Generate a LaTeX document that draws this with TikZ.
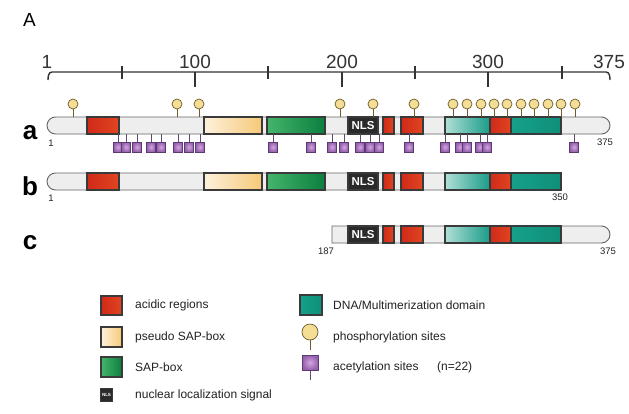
\documentclass[tikz,border=0pt]{standalone}
\usepackage{fontspec}
\setmainfont{Liberation Sans}
\definecolor{barfill}{HTML}{EEEEEE}
\definecolor{barline}{HTML}{666666}
\definecolor{segline}{HTML}{3A3A3A}
\definecolor{redL}{HTML}{D02A1A}
\definecolor{redM}{HTML}{F5772E}
\definecolor{redR}{HTML}{E04520}
\definecolor{psL}{HTML}{FDF1DC}
\definecolor{psR}{HTML}{F7C977}
\definecolor{sapL}{HTML}{45B56C}
\definecolor{sapR}{HTML}{0B7F3F}
\definecolor{tealL}{HTML}{B0DFD6}
\definecolor{tealR}{HTML}{1A9C88}
\definecolor{tealA}{HTML}{16A08A}
\definecolor{tealB}{HTML}{0F8F7A}
\definecolor{nlsc}{HTML}{2A2A2A}
\definecolor{phosfill}{HTML}{F4DD95}
\definecolor{phosline}{HTML}{6E5B2A}
\definecolor{acin}{HTML}{D3A6E0}
\definecolor{acout}{HTML}{9560AD}
\definecolor{acline}{HTML}{5A3A70}
\definecolor{txt}{HTML}{222222}
\definecolor{axisc}{HTML}{333333}
\tikzset{
  barbody/.style={draw=barline, fill=barfill, line width=0.9pt},
  seg/.style={draw=segline, line width=1.1pt},
  acid/.style={seg, left color=redL, middle color=redM, right color=redR},
  psap/.style={seg, left color=psL, right color=psR},
  sapbox/.style={seg, left color=sapL, right color=sapR},
  tealone/.style={seg, left color=tealL, right color=tealR},
  tealtwo/.style={seg, left color=tealA, right color=tealB},
  nlsbox/.style={seg, fill=nlsc},
  phos/.style={circle, draw=phosline, fill=phosfill, line width=0.7pt, minimum size=10pt, inner sep=0pt},
  acet/.style={rectangle, draw=acline, inner color=acin, outer color=acout, line width=0.6pt, minimum width=9pt, minimum height=10pt, inner sep=0pt},
  phstem/.style={draw=phosline, line width=0.7pt},
  acstem/.style={draw=acline!80!gray, line width=0.7pt},
  axisline/.style={draw=axisc, line width=1.4pt},
  axnum/.style={font=\fontsize{19}{19}\selectfont, text=axisc, inner sep=0pt},
  rowlab/.style={font=\fontsize{26}{26}\selectfont\bfseries, text=black, inner sep=0pt, anchor=base},
  endlab/.style={font=\fontsize{9.5}{9.5}\selectfont, text=txt, inner sep=0pt},
  legtext/.style={font=\fontsize{12}{12}\selectfont, text=txt, anchor=west, inner sep=0pt},
  nlstext/.style={font=\fontsize{11.5}{11.5}\selectfont\bfseries, text=white, inner sep=0pt},
}
\newcommand\coresegs[1]{%
  \path[nlsbox] (348,#1) rectangle (378,#1+17);
  \path[acid] (383,#1) rectangle (394,#1+17);
  \path[acid] (401,#1) rectangle (423,#1+17);
  \path[tealone] (445,#1) rectangle (490,#1+17);
  \path[tealtwo] (511,#1) rectangle (561,#1+17);
  \path[acid] (490,#1) rectangle (511,#1+17);
}
\newcommand\leftsegs[1]{%
  \path[acid] (87,#1) rectangle (119,#1+17);
  \path[psap] (204,#1) rectangle (262,#1+17);
  \path[sapbox] (267,#1) rectangle (325,#1+17);
}
\begin{document}
\begin{tikzpicture}[x=1pt,y=-1pt]
\useasboundingbox (0,0) rectangle (629,413);
\fill[white] (0,0) rectangle (629,413);

% panel letter
\node[font=\fontsize{19}{19}\selectfont, inner sep=0pt] (panelA) at (29.5,20) {A};

% axis
\coordinate (ax0) at (52,72);
\coordinate (ax1) at (606,72);
\draw[axisline] (48,80) to[out=90,in=180] (ax0) -- (ax1) to[out=0,in=90] (610,80);
\foreach \x in {195,342,488} \draw[axisline] (\x,72) -- (\x,87);
\foreach \x in {122,268,415,562} \draw[axisline] (\x,66) -- (\x,79);
\node[axnum, anchor=base] (n1) at (47,68) {1};
\node[axnum, anchor=base] (n100) at (195,68) {100};
\node[axnum, anchor=base] (n200) at (342,68) {200};
\node[axnum, anchor=base] (n300) at (488,68) {300};
\node[axnum, anchor=base] (n375) at (609,68) {375};

% bar a
\draw[barbody] (55.5,117) -- (601.5,117) arc[start angle=90,end angle=-90,radius=8.5pt] -- (55.5,134) arc[start angle=270,end angle=90,radius=8.5pt] -- cycle;
\leftsegs{117}
\coresegs{117}
\node[nlstext] (nlsa) at (363,125.5) {NLS};
% bar b
\draw[barbody] (55.5,173) -- (561,173) -- (561,190) -- (55.5,190) arc[start angle=270,end angle=90,radius=8.5pt] -- cycle;
\leftsegs{173}
\coresegs{173}
\node[nlstext] (nlsb) at (363,181.5) {NLS};
% bar c
\draw[barbody] (332,226) -- (601.5,226) arc[start angle=90,end angle=-90,radius=8.5pt] -- (332,243) -- cycle;
\coresegs{226}
\node[nlstext] (nlsc) at (363,234.5) {NLS};

% row labels
\node[rowlab] (la) at (30,139) {a};
\node[rowlab] (lb) at (30,195) {b};
\node[rowlab] (lc) at (30,249) {c};

% end labels
\node[endlab] (a1) at (51,143) {1};
\node[endlab] (a375) at (605,142) {375};
\node[endlab] (b1) at (51,198) {1};
\node[endlab] (b350) at (560,197) {350};
\node[endlab] (c187) at (326,251) {187};
\node[endlab] (c375) at (608,251) {375};

% phosphorylation sites
\foreach \x [count=\i] in {73,177,199,340,373,414,453,467,481,494,507,521,534,548,561,575}{
  \coordinate (pb\i) at (\x,117);
  \node[phos] (p\i) at (\x,104) {};
  \draw[phstem] (p\i) -- (pb\i);
}
% acetylation sites
\foreach \x [count=\i] in {118,126,137,151,161,178,189,200,273,311,332,344,360,370,379,409,445,460,467,480,487,574}{
  \coordinate (ab\i) at (\x,134);
  \node[acet] (q\i) at (\x,147) {};
  \draw[acstem] (ab\i) -- (q\i);
}

% legend
\path[acid] (101,296) rectangle (122,315);
\node[legtext] (t1) at (135,305) {acidic regions};
\path[psap] (101,327) rectangle (122,347);
\node[legtext] (t2) at (135,337) {pseudo SAP-box};
\path[sapbox] (101,357) rectangle (122,377);
\node[legtext] (t3) at (135,367) {SAP-box};
\node[draw=segline, fill=nlsc, line width=0.8pt, minimum width=12pt, minimum height=13pt, inner sep=0pt, font=\fontsize{4.5}{4.5}\selectfont\bfseries, text=white] (lnls) at (106.5,394.5) {NLS};
\node[legtext] (t4) at (135,395) {nuclear localization signal};

\path[tealtwo] (300,295) rectangle (322,315);
\node[legtext] (t5) at (333,305) {DNA/Multimerization domain};
\coordinate (lpb) at (310,350);
\node[phos, minimum size=16pt] (lp) at (310,332) {};
\draw[phstem] (lp) -- (lpb);
\node[legtext] (t6) at (333,337) {phosphorylation sites};
\coordinate (lqb) at (310,380);
\node[acet, minimum width=16pt, minimum height=15pt] (lq) at (310,362.5) {};
\draw[acstem] (lq) -- (lqb);
\node[legtext] (t7) at (333,367) {acetylation sites};
\node[legtext] (t8) at (437,367) {(n=22)};
\end{tikzpicture}
\end{document}
